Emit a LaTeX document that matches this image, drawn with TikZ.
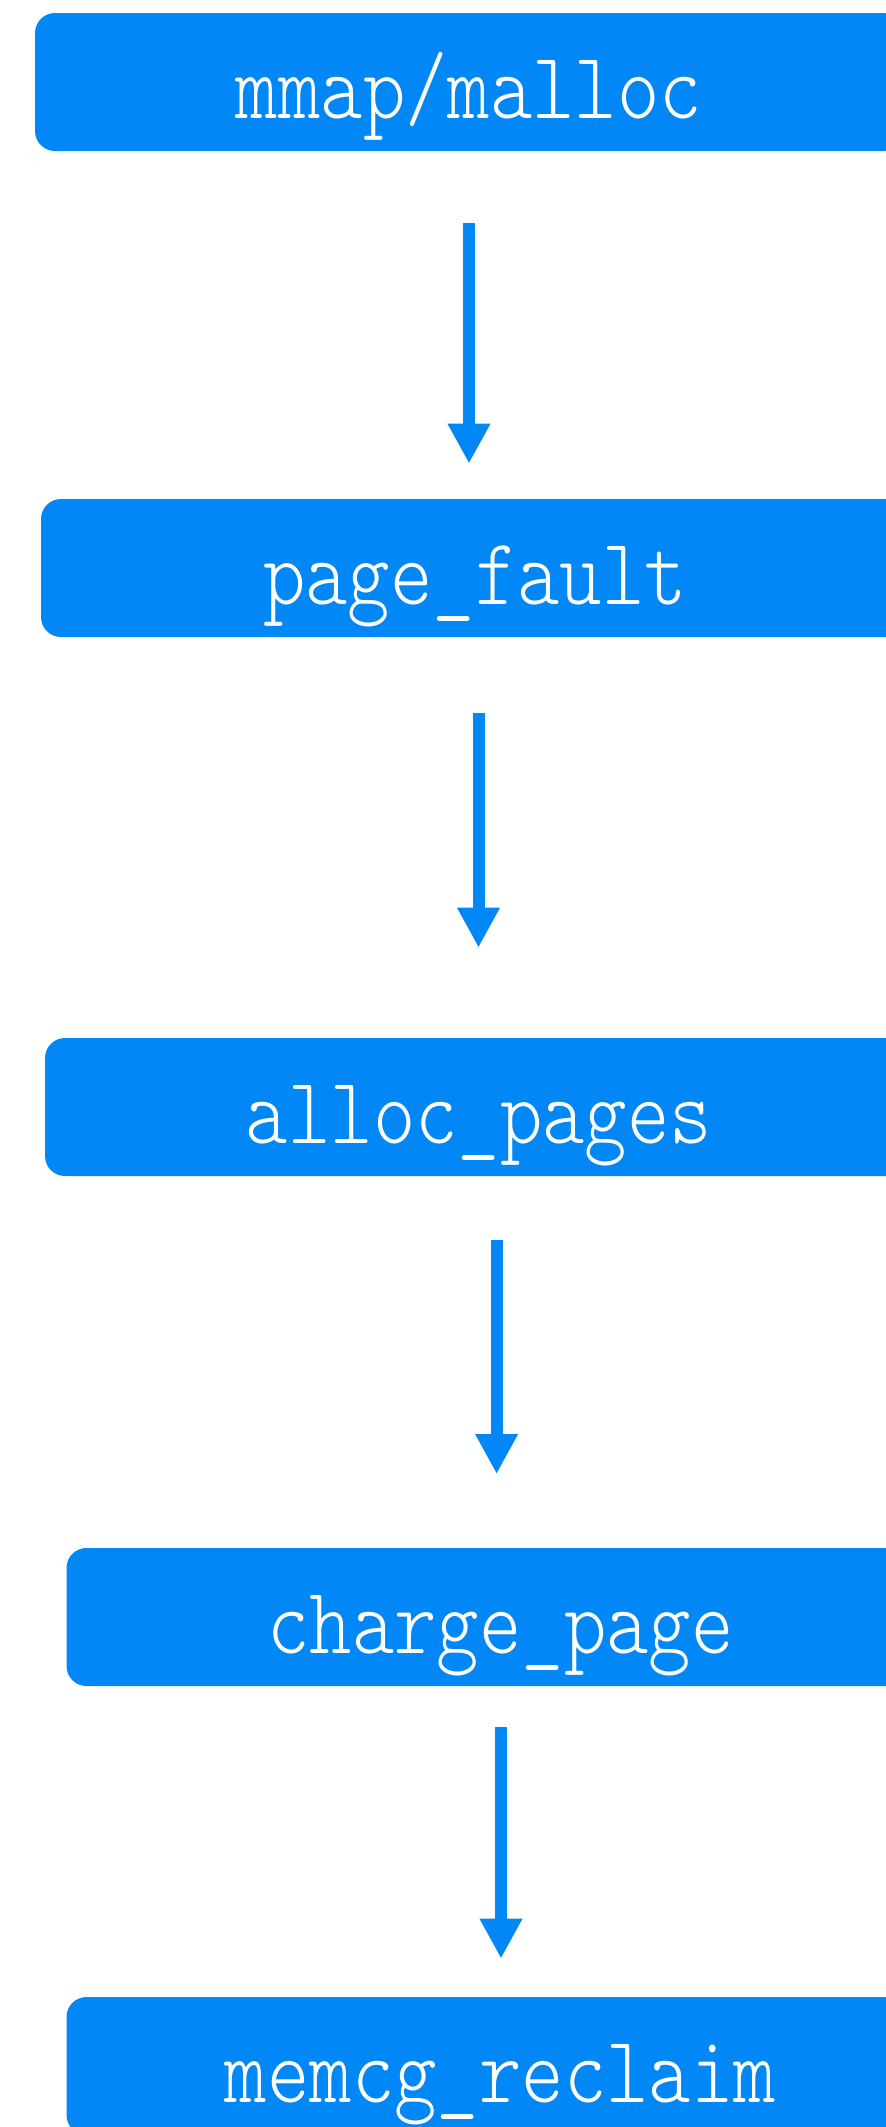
\documentclass[tikz,border=0pt]{standalone}
\usepackage{fontspec}
\usepackage{tikz}
\usetikzlibrary{arrows.meta, positioning}
\newfontfamily\callfont{lmmonolt10-regular}[Extension=.otf, FakeStretch=0.85]
\definecolor{callblue}{RGB}{2,135,247}
\tikzstyle{func} = [rectangle, fill=callblue, text=white, rounded corners=10pt, minimum width=434pt, minimum height=69pt, text height=36pt, text depth=0pt, inner sep=0pt, font=\fontsize{47.5pt}{47.5pt}\callfont]
\tikzstyle{line} = [draw=callblue, line width=6pt, -{Triangle[width=20pt, length=20pt]}]

\begin{document}
\begin{tikzpicture}
    \useasboundingbox (0,0) rectangle (443pt,-1063.5pt);

    % Nodes
    \node [func] (mmap) at (234.5pt,-41pt) {mmap/malloc};
    \node [func, below of=mmap, node distance=243pt, xshift=3pt] (fault) {page\_fault};
    \node [func, below of=fault, node distance=269.5pt, xshift=2pt] (alloc) {alloc\_pages};
    \node [func, below of=alloc, node distance=255pt, xshift=10.75pt] (charge) {charge\_page};
    \node [func, below of=charge, node distance=224.5pt] (reclaim) {memcg\_reclaim};

    % Lines
    \path [line, shorten <=35.9pt, shorten >=17.5pt] (mmap.south) -- ([xshift=-3pt]fault.north);
    \path [line, shorten <=38pt, shorten >=45pt] ([xshift=1.75pt]fault.south) -- ([xshift=-0.25pt]alloc.north);
    \path [line, shorten <=32pt, shorten >=36.8pt] ([xshift=8.8pt]alloc.south) -- ([xshift=-1.95pt]charge.north);
    \path [line, shorten <=20.5pt, shorten >=19pt] ([xshift=0.25pt]charge.south) -- ([xshift=0.25pt]reclaim.north);
\end{tikzpicture}
\end{document}
